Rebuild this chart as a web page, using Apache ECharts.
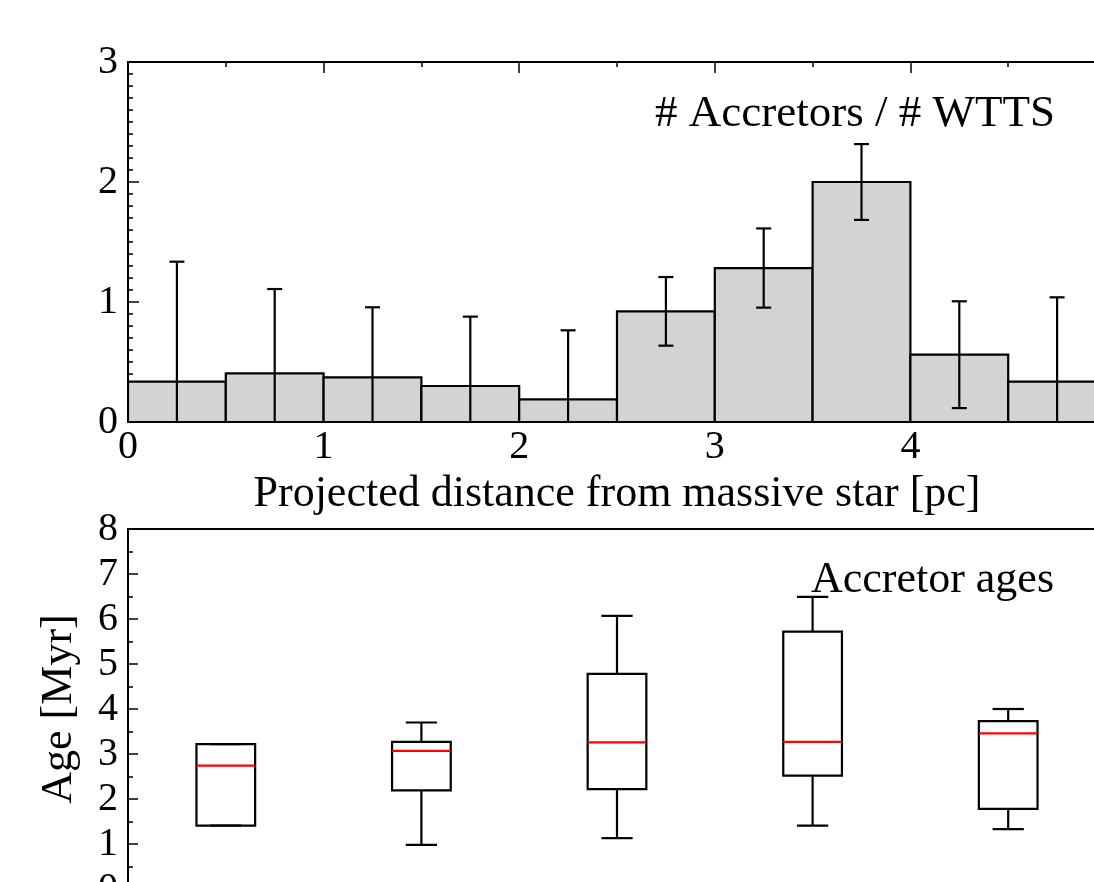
<!DOCTYPE html>
<html>
<head>
<meta charset="utf-8">
<script src="https://cdn.jsdelivr.net/npm/echarts@6/dist/echarts.min.js"></script>
<style>
html, body { margin: 0; padding: 0; background: #fff; }
#main { width: 1094px; height: 882px; }
</style>
</head>
<body>
<div id="main"></div>
<script>
// histogram: ratio of accretors to WTTS per 0.5 pc bin
var binLeft = [0, 0.5, 1, 1.5, 2, 2.5, 3, 3.5, 4, 4.5]
var binWidth = 0.5
var ratio = [0.336, 0.405, 0.372, 0.30, 0.189, 0.922, 1.283, 2.0, 0.561, 0.336]
var ratioErr = [1.0, 0.703, 0.584, 0.578, 0.575, 0.286, 0.33, 0.316, 0.445, 0.703]

// accretor ages per 1 pc bin (box plots)
var boxPos = [0.5, 1.5, 2.5, 3.5, 4.5]
var ageMin = [1.41, 0.98, 1.13, 1.41, 1.33]
var ageQ1 = [1.41, 2.19, 2.22, 2.52, 1.78]
var ageMed = [2.74, 3.07, 3.26, 3.27, 3.46]
var ageQ3 = [3.22, 3.27, 4.78, 5.72, 3.73]
var ageMax = [3.22, 3.70, 6.07, 6.49, 4.00]

var xTicks = [0, 1, 2, 3, 4, 5]
var yTicksTop = [0, 1, 2, 3]
var yTicksBottom = [0, 1, 2, 3, 4, 5, 6, 7, 8]

var FONT = "'Liberation Serif', 'DejaVu Serif', serif"

var chart = echarts.init(document.getElementById('main'))

var barData = binLeft.map(function (x, i) { return [x, ratio[i], ratioErr[i]] })
var boxData = boxPos.map(function (x, i) { return [x, ageMin[i], ageQ1[i], ageMed[i], ageQ3[i], ageMax[i]] })

function renderBar(params, api) {
    var x0 = api.value(0), h = api.value(1)
    var p0 = api.coord([x0, 0])
    var p1 = api.coord([x0 + binWidth, h])
    return {
        type: 'rect',
        shape: { x: p0[0], y: p1[1], width: p1[0] - p0[0], height: p0[1] - p1[1] },
        style: { fill: '#d3d3d3', stroke: '#000', lineWidth: 2.2 }
    }
}

function renderErr(params, api) {
    var xc = api.value(0) + binWidth / 2, v = api.value(1), e = api.value(2)
    var top = api.coord([xc, v + e])
    var bot = api.coord([xc, v - e])
    var cap = 7.5
    var st = { stroke: '#000', lineWidth: 2.2 }
    return {
        type: 'group',
        children: [
            { type: 'line', shape: { x1: top[0], y1: top[1], x2: bot[0], y2: bot[1] }, style: st },
            { type: 'line', shape: { x1: top[0] - cap, y1: top[1], x2: top[0] + cap, y2: top[1] }, style: st },
            { type: 'line', shape: { x1: bot[0] - cap, y1: bot[1], x2: bot[0] + cap, y2: bot[1] }, style: st }
        ]
    }
}

function renderBox(params, api) {
    var x = api.value(0)
    var hw = 0.15, cw = 0.08
    var pMin = api.coord([x, api.value(1)])
    var pQ1 = api.coord([x, api.value(2)])
    var pMed = api.coord([x, api.value(3)])
    var pQ3 = api.coord([x, api.value(4)])
    var pMax = api.coord([x, api.value(5)])
    var xl = api.coord([x - hw, 0])[0], xr = api.coord([x + hw, 0])[0]
    var cl = api.coord([x - cw, 0])[0], cr = api.coord([x + cw, 0])[0]
    var st = { stroke: '#000', lineWidth: 2.2 }
    return {
        type: 'group',
        children: [
            { type: 'line', shape: { x1: pMin[0], y1: pMin[1], x2: pQ1[0], y2: pQ1[1] }, style: st },
            { type: 'line', shape: { x1: pQ3[0], y1: pQ3[1], x2: pMax[0], y2: pMax[1] }, style: st },
            { type: 'line', shape: { x1: cl, y1: pMin[1], x2: cr, y2: pMin[1] }, style: st },
            { type: 'line', shape: { x1: cl, y1: pMax[1], x2: cr, y2: pMax[1] }, style: st },
            { type: 'rect', shape: { x: xl, y: pQ3[1], width: xr - xl, height: pQ1[1] - pQ3[1] }, style: { fill: 'none', stroke: '#000', lineWidth: 2.2 } },
            { type: 'line', shape: { x1: xl, y1: pMed[1], x2: xr, y2: pMed[1] }, style: { stroke: '#ff0000', lineWidth: 2.2 } }
        ]
    }
}

var labelStyle = { color: '#000', fontFamily: FONT, fontSize: 40 }
var nameStyle = { color: '#000', fontFamily: FONT, fontSize: 44 }
var tickLine = { color: '#000', width: 1.5 }

var option = {
    animation: false,
    backgroundColor: '#fff',
    grid: [
        { left: 128, top: 62, width: 978, height: 360, containLabel: false, outerBoundsMode: 'none', show: true, borderColor: '#000', borderWidth: 2, backgroundColor: 'transparent' },
        { left: 128, top: 529, width: 978, height: 360, containLabel: false, outerBoundsMode: 'none', show: true, borderColor: '#000', borderWidth: 2, backgroundColor: 'transparent' }
    ],
    xAxis: [
        {
            gridIndex: 0, type: 'value', min: 0, max: 5, interval: 1, position: 'bottom',
            axisLine: { show: false },
            axisTick: { show: true, inside: true, length: 11, lineStyle: tickLine },
            minorTick: { show: true, splitNumber: 2, length: 5, lineStyle: tickLine },
            splitLine: { show: false },
            axisLabel: Object.assign({ margin: 5, formatter: function (v) { return xTicks.indexOf(v) >= 0 ? String(v) : '' } }, labelStyle),
            name: 'Projected distance from massive star [pc]',
            nameLocation: 'middle', nameGap: 50,
            nameTextStyle: nameStyle
        },
        {
            gridIndex: 0, type: 'value', min: 0, max: 5, interval: 1, position: 'top',
            axisLine: { show: false },
            axisTick: { show: true, inside: true, length: 11, lineStyle: tickLine },
            minorTick: { show: true, splitNumber: 2, length: 5, lineStyle: tickLine },
            splitLine: { show: false },
            axisLabel: { show: false }
        },
        {
            gridIndex: 1, type: 'value', min: 0, max: 5, interval: 0.5, position: 'top',
            axisLine: { show: false },
            axisTick: { show: true, inside: true, length: 4, lineStyle: tickLine },
            splitLine: { show: false },
            axisLabel: { show: false }
        }
    ],
    yAxis: [
        {
            gridIndex: 0, type: 'value', min: 0, max: 3, interval: 1,
            axisLine: { show: false },
            axisTick: { show: true, inside: true, length: 11, lineStyle: tickLine },
            minorTick: { show: true, splitNumber: 10, length: 5, lineStyle: tickLine },
            splitLine: { show: false },
            axisLabel: Object.assign({ margin: 10, formatter: function (v) { return yTicksTop.indexOf(v) >= 0 ? String(v) : '' } }, labelStyle)
        },
        {
            gridIndex: 1, type: 'value', min: 0, max: 8, interval: 1,
            axisLine: { show: false },
            axisTick: { show: true, inside: true, length: 10, lineStyle: tickLine },
            minorTick: { show: true, splitNumber: 2, length: 5, lineStyle: tickLine },
            splitLine: { show: false },
            axisLabel: Object.assign({ margin: 10, formatter: function (v) { return yTicksBottom.indexOf(v) >= 0 ? String(v) : '' } }, labelStyle),
            name: 'Age [Myr]',
            nameLocation: 'middle', nameGap: 47,
            nameTextStyle: nameStyle
        }
    ],
    series: [
        { type: 'custom', xAxisIndex: 0, yAxisIndex: 0, clip: true, renderItem: renderBar, data: barData, z: 2 },
        { type: 'custom', xAxisIndex: 0, yAxisIndex: 0, clip: true, renderItem: renderErr, data: barData, z: 3 },
        { type: 'custom', xAxisIndex: 2, yAxisIndex: 1, clip: true, renderItem: renderBox, data: boxData, z: 3 }
    ],
    graphic: [
        { type: 'text', x: 1055, y: 114, z: 10, style: { text: '# Accretors / # WTTS', align: 'right', verticalAlign: 'middle', fill: '#000', font: '45px ' + FONT } },
        { type: 'text', x: 1054, y: 580, z: 10, style: { text: 'Accretor ages', align: 'right', verticalAlign: 'middle', fill: '#000', font: '44px ' + FONT } }
    ]
}

chart.setOption(option)
</script>
</body>
</html>
